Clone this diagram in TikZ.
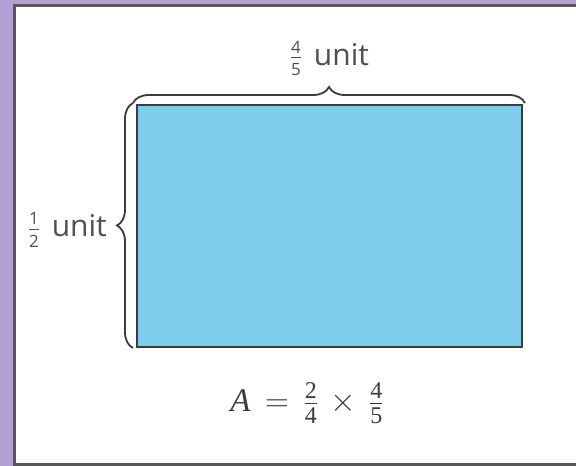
\RequirePackage{fix-cm}
\documentclass[tikz,border=0pt]{standalone}
\usepackage{amsmath}
\usepackage{fontspec}
\setmainfont{Open Sans}
\newfontfamily\formfont{Liberation Serif}
\usepackage{tikz}
\usetikzlibrary{positioning,calc,decorations.pathreplacing}
\definecolor{framebg}{RGB}{176,160,212}
\definecolor{framedraw}{RGB}{88,88,88}
\definecolor{fieldfill}{RGB}{125,205,235}
\definecolor{inkgray}{RGB}{60,60,60}

\newcommand{\numfrac}[3]{\tfrac{\text{\fontsize{#1}{#1}\selectfont #2}}{\text{\fontsize{#1}{#1}\selectfont #3}}}

\begin{document}
\begin{tikzpicture}[x=1pt, y=1pt,
    field/.style={draw=inkgray, line width=2pt, fill=fieldfill,
                  minimum width=385pt, minimum height=242pt, inner sep=0pt},
    lbl/.style={text=inkgray!90, font=\fontsize{30}{36}\selectfont, inner sep=0pt},
    formula/.style={text=inkgray, font=\formfont\fontsize{33}{40}\selectfont, inner sep=0pt},
    curly/.style={draw=inkgray, line width=1.8pt, decorate,
                  decoration={brace, amplitude=16pt}}]
    % page and frame
    \useasboundingbox (0,0) rectangle (576,466);
    \clip (0,0) rectangle (576,466);
    \fill[framebg] (0,0) rectangle (576,466);
    \draw[framedraw, line width=3pt, fill=white] (14.5,1.5) rectangle (600,460.5);

    % rectangle
    \node[field] (area) at (329.5,240) {};

    % braces
    \coordinate (topleft)  at ($(area.north west)+(-3,1)$);
    \coordinate (topright) at ($(area.north east)+(2,1)$);
    \coordinate (botleft)  at ($(area.south west)+(-3,0)$);
    \draw[curly] (topleft) -- (topright);
    \draw[curly] (botleft) -- (topleft);

    % labels
    \node[lbl, above=28pt of area] (widthlabel) {$\numfrac{17}{4}{5}$\hspace{4pt} unit};
    \node[lbl, left=29pt of area, yshift=-4pt] (heightlabel) {$\numfrac{17}{1}{2}$\hspace{4pt} unit};
    \node[formula] (areaeq) at (307,63)
        {$\text{\itshape A} \,=\, \numfrac{24}{2}{4} \,\times\, \numfrac{24}{4}{5}$};
\end{tikzpicture}
\end{document}
